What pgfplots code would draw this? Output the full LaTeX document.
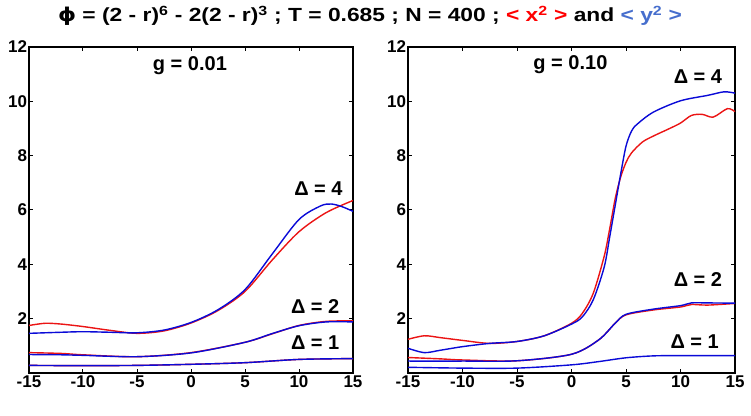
\documentclass[border=0pt]{standalone}
\usepackage{pgfplots}
\pgfplotsset{compat=1.18}
\usepackage{fontspec}
\setmainfont{Liberation Sans}
\newfontfamily\titlefont{Liberation Sans}[FakeStretch=1.2]
\newfontfamily\dejavu{DejaVu Sans}[FakeStretch=1.2]
\definecolor{cred}{RGB}{235,20,20}
\definecolor{cblue}{RGB}{10,10,215}
\definecolor{tblue}{RGB}{70,110,205}
\tikzset{lab/.style={font=\bfseries\fontsize{20}{20}\selectfont}}
\pgfplotsset{
  myax/.style={
    scale only axis, height=326pt,
    xmin=-15, xmax=15, ymin=0, ymax=12,
    xtick={-15,-10,...,15}, ytick={2,4,...,12},
    tick align=inside, major tick length=4pt,
    axis line style={line width=1.3pt},
    every tick/.style={line width=1pt, black},
    /pgf/number format/assume math mode=true,
    tick label style={font=\bfseries\fontsize{17}{17}\selectfont},
    yticklabel style={xshift=1.5pt},
    xticklabel style={yshift=1pt},
    clip=false,
  },
  r/.style={cred, line width=1.4pt, smooth, no marks},
  b/.style={cblue, line width=1.4pt, smooth, no marks},
}
\begin{document}
\begin{tikzpicture}[x=1pt,y=1pt]
\useasboundingbox (0,0) rectangle (751,415);
\node[font=\titlefont\bfseries\fontsize{19}{19}\selectfont] at (370,399)
 {{\dejavu ϕ} = (2 - r)\textsuperscript{6} - 2(2 - r)\textsuperscript{3} ; T = 0.685 ; N = 400 ; \textcolor{red}{< x\textsuperscript{2} >} and \textcolor{tblue}{< y\textsuperscript{2} >}};
\begin{axis}[myax, width=324pt, at={(29pt,42pt)}, anchor=south west]
\addplot[r] coordinates {(-15,1.75) (-13.5,1.83) (-12,1.8) (-10,1.71) (-7.5,1.57) (-5,1.46) (-2.5,1.55) (0,1.84) (2.5,2.3) (5,3.0) (7.5,4.15) (10,5.2) (12.5,5.9) (15,6.35)};
\addplot[b] coordinates {(-15,1.46) (-12,1.5) (-10,1.52) (-7.5,1.5) (-5,1.48) (-2.5,1.58) (0,1.86) (2.5,2.33) (5,3.07) (7.5,4.37) (10,5.65) (12,6.15) (13,6.22) (14,6.12) (15,5.95)};
\addplot[r] coordinates {(-15,0.75) (-12,0.72) (-10,0.67) (-5,0.6) (0,0.75) (5,1.13) (7.5,1.44) (10,1.75) (12.5,1.9) (15,1.92)};
\addplot[b] coordinates {(-15,0.68) (-12,0.67) (-10,0.65) (-5,0.6) (0,0.74) (5,1.13) (7.5,1.45) (10,1.74) (12.5,1.88) (15,1.88)};
\addplot[r] coordinates {(-15,0.28) (-10,0.27) (-5,0.28) (0,0.32) (5,0.38) (10,0.5) (15,0.53)};
\addplot[b] coordinates {(-15,0.28) (-10,0.27) (-5,0.28) (0,0.32) (5,0.38) (10,0.5) (15,0.53)};
\node[lab] at (axis cs:-0.1,11.3) {g = 0.01};
\node[lab] at (axis cs:11.8,6.8) {Δ = 4};
\node[lab] at (axis cs:11.5,2.45) {Δ = 2};
\node[lab] at (axis cs:11.5,1.1) {Δ = 1};
\end{axis}
\begin{axis}[myax, width=327pt, at={(408pt,42pt)}, anchor=south west]
\addplot[r] coordinates {(-15,1.24) (-13.5,1.37) (-12,1.3) (-10,1.2) (-7.5,1.09) (-5,1.16) (-2.5,1.37) (0,1.83) (1,2.2) (2,2.94) (3,4.3) (3.5,5.3) (4,6.4) (4.5,7.2) (5,7.75) (5.5,8.1) (6.5,8.5) (7.5,8.72) (9,9.0) (10,9.2) (11,9.48) (12,9.52) (13,9.42) (14.3,9.73) (15,9.62)};
\addplot[b] coordinates {(-15,0.91) (-13.5,0.75) (-12,0.84) (-10,0.97) (-7.5,1.09) (-5,1.16) (-2.5,1.37) (0,1.8) (1,2.07) (2,2.7) (3,3.9) (3.5,5.0) (4,6.15) (4.5,7.3) (5,8.35) (5.5,8.9) (6,9.15) (7.5,9.6) (10,10.02) (12.5,10.22) (14,10.35) (15,10.3)};
\addplot[r] coordinates {(-15,0.57) (-12,0.52) (-10,0.48) (-5,0.45) (0,0.69) (2.5,1.22) (4,1.83) (5,2.14) (7.5,2.32) (10,2.43) (11,2.52) (12.5,2.5) (15,2.56)};
\addplot[b] coordinates {(-15,0.44) (-10,0.44) (-5,0.45) (0,0.69) (2.5,1.22) (4,1.83) (5,2.16) (7.5,2.35) (10,2.48) (11,2.58) (12.5,2.58) (15,2.57)};
\addplot[b] coordinates {(-15,0.21) (-10,0.18) (-5,0.18) (0,0.3) (2.5,0.42) (5,0.56) (7.5,0.63) (10,0.64) (15,0.64)};
\node[lab] at (axis cs:-0.1,11.35) {g = 0.10};
\node[lab] at (axis cs:11.6,10.9) {Δ = 4};
\node[lab] at (axis cs:11.6,3.45) {Δ = 2};
\node[lab] at (axis cs:11.3,1.15) {Δ = 1};
\end{axis}
\end{tikzpicture}
\end{document}
